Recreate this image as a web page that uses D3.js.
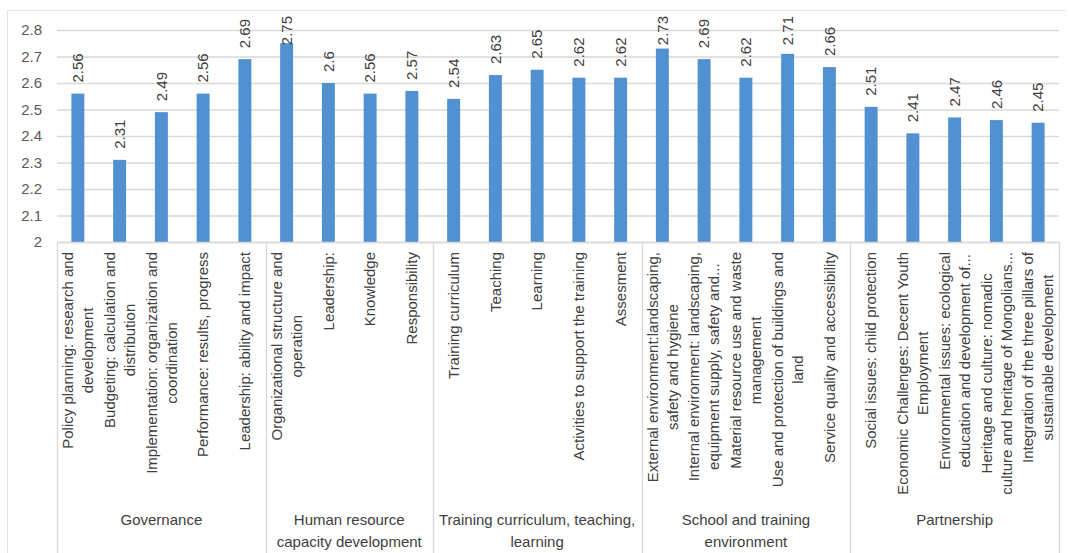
<!DOCTYPE html>
<html>
<head>
<meta charset="utf-8">
<script src="https://cdn.jsdelivr.net/npm/d3@7"></script>
<style>
  html, body { margin: 0; padding: 0; background: #ffffff; }
  svg { display: block; }
  text { font-family: "Liberation Sans", Arial, sans-serif; }
</style>
</head>
<body>
<svg id="chart" width="1070" height="553"></svg>
<script>
// Indicator labels (each inner array is one wrapped label, line by line)
const indicators = [
  ["Policy planning: research and", "development"],
  ["Budgeting: calculation and", "distribution"],
  ["Implementation: organization and", "coordination"],
  ["Performance: results, progress"],
  ["Leadership: ability and impact"],
  ["Organizational structure and", "operation"],
  ["Leadership:"],
  ["Knowledge"],
  ["Responsibility"],
  ["Training curriculum"],
  ["Teaching"],
  ["Learning"],
  ["Activities to support the training"],
  ["Assesment"],
  ["External environment:landscaping,", "safety and hygiene"],
  ["Internal environment: landscaping,", "equipment supply, safety and..."],
  ["Material resource use and waste", "management"],
  ["Use and protection of buildings and", "land"],
  ["Service quality and accessibility"],
  ["Social issues: child protection"],
  ["Economic Challenges: Decent Youth", "Employment"],
  ["Environmental issues: ecological", "education and development of..."],
  ["Heritage and culture: nomadic", "culture and heritage of Mongolians..."],
  ["Integration of the three pillars of", "sustainable development"]
];

// Mean score per indicator
const scores = [
  2.56, 2.31, 2.49, 2.56, 2.69,
  2.75, 2.6, 2.56, 2.57,
  2.54, 2.63, 2.65, 2.62, 2.62,
  2.73, 2.69, 2.62, 2.71, 2.66,
  2.51, 2.41, 2.47, 2.46, 2.45
];

// Dimension groups: wrapped name and number of indicators
const groupNames = [
  ["Governance"],
  ["Human resource", "capacity development"],
  ["Training curriculum, teaching,", "learning"],
  ["School and training", "environment"],
  ["Partnership"]
];
const groupSizes = [5, 4, 5, 5, 5];

// Value axis ticks
const yTicks = [2, 2.1, 2.2, 2.3, 2.4, 2.5, 2.6, 2.7, 2.8];

const svg = d3.select("#chart");
const W = 1070, H = 553;
const plot = { left: 57, right: 1059, top: 30, bottom: 242 };

const gridColor = "#d9d9d9";
const barColor = "#5190d1";
const textColor = "#404040";
const fontSize = "15px";

// outer chart frame
svg.append("path")
  .attr("d", `M7.5,${H} V10.5 H1065.5`)
  .attr("fill", "none")
  .attr("stroke", "#e3e3e3")
  .attr("stroke-width", 1);

const x = d3.scaleBand()
  .domain(d3.range(scores.length))
  .range([plot.left, plot.right])
  .paddingInner(0.69)
  .paddingOuter(0.345);

const y = d3.scaleLinear()
  .domain([2, 2.8])
  .range([plot.bottom, plot.top]);

// horizontal gridlines + tick labels
const yAxis = d3.axisLeft(y)
  .tickValues(yTicks)
  .tickSize(-(plot.right - plot.left))
  .tickPadding(15)
  .tickFormat(d3.format("~g"));

const gy = svg.append("g")
  .attr("transform", `translate(${plot.left},0)`)
  .call(yAxis);
gy.select(".domain").remove();
gy.selectAll(".tick line").attr("stroke", gridColor).attr("stroke-width", 1.3);
gy.selectAll(".tick text")
  .attr("fill", "#595959")
  .style("font-size", fontSize);

// bars
svg.append("g").selectAll("rect")
  .data(scores)
  .join("rect")
  .attr("x", (d, i) => x(i))
  .attr("width", x.bandwidth())
  .attr("y", d => y(d))
  .attr("height", d => y(2) - y(d))
  .attr("fill", barColor);

// value labels, rotated above each bar (kept inside the chart frame)
const labelTopLimit = 16;
const vl = svg.append("g").selectAll("text")
  .data(scores)
  .join("text")
  .attr("fill", textColor)
  .style("font-size", fontSize)
  .attr("text-anchor", "start")
  .attr("dy", "0.35em")
  .text(d => d3.format("~g")(d));
vl.each(function (d, i) {
  const len = this.getComputedTextLength();
  let base = y(d) - 11;
  if (base - len < labelTopLimit) base = labelTopLimit + len;
  const cx = x(i) + x.bandwidth() / 2;
  d3.select(this).attr("transform", `translate(${cx},${base}) rotate(-90)`);
});

// category axis frame: baseline and group separators
const step = x.step();
const axisG = svg.append("g");
axisG.append("line")
  .attr("x1", plot.left).attr("x2", plot.right)
  .attr("y1", plot.bottom + 0.5).attr("y2", plot.bottom + 0.5)
  .attr("stroke", gridColor).attr("stroke-width", 1.3);

const bounds = [0];
groupSizes.forEach(s => bounds.push(bounds[bounds.length - 1] + s));
axisG.selectAll("line.sep")
  .data(bounds)
  .join("line")
  .attr("class", "sep")
  .attr("x1", b => Math.round(plot.left + b * step) + 0.5)
  .attr("x2", b => Math.round(plot.left + b * step) + 0.5)
  .attr("y1", plot.bottom)
  .attr("y2", H)
  .attr("stroke", gridColor)
  .attr("stroke-width", 1.3);

// indicator labels: rotated, top-aligned under the axis, lines centred in block
const labelTop = 252;
const lineGap = 20;
const catG = svg.append("g");
indicators.forEach((lines, i) => {
  const cx = x(i) + x.bandwidth() / 2;
  const g = catG.append("g");
  const texts = lines.map(ln => g.append("text")
    .attr("fill", textColor)
    .style("font-size", fontSize)
    .attr("text-anchor", "middle")
    .attr("dy", "0.35em")
    .text(ln));
  const maxW = d3.max(texts, t => t.node().getComputedTextLength());
  const cy = labelTop + maxW / 2;
  texts.forEach((t, k) => {
    const lx = cx + (k - (lines.length - 1) / 2) * lineGap;
    t.attr("transform", `translate(${lx},${cy}) rotate(-90)`);
  });
});

// group labels
const grpG = svg.append("g");
groupNames.forEach((lines, gi) => {
  const cx = plot.left + (bounds[gi] + bounds[gi + 1]) / 2 * step;
  lines.forEach((ln, k) => {
    grpG.append("text")
      .attr("x", cx)
      .attr("y", 520 + k * 21.5)
      .attr("dy", "0.35em")
      .attr("text-anchor", "middle")
      .attr("fill", textColor)
      .style("font-size", fontSize)
      .text(ln);
  });
});
</script>
</body>
</html>
